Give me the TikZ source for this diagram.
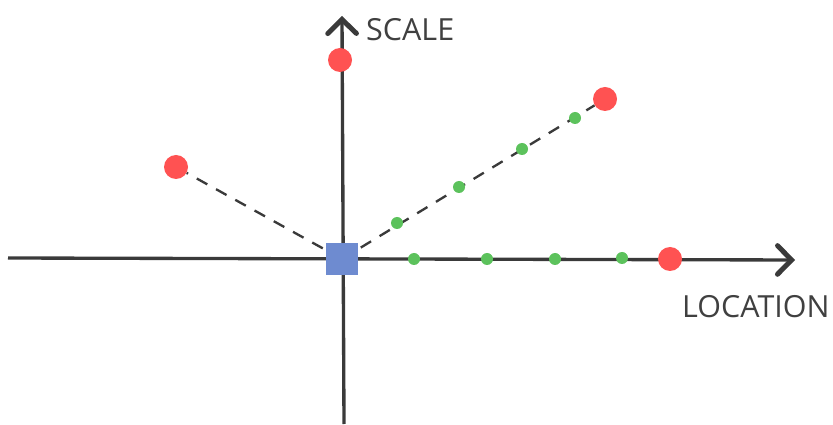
\documentclass[tikz,border=0pt]{standalone}
\usepackage{fontspec}
\setmainfont{Open Sans}
\usepackage{xcolor}
\usetikzlibrary{
  arrows.meta
}
\definecolor{axisgrey}{RGB}{58,58,58}
\definecolor{labelgrey}{RGB}{64,64,64}
\definecolor{dotred}{RGB}{255,82,82}
\definecolor{dotgreen}{RGB}{92,194,92}
\definecolor{originblue}{RGB}{110,139,208}
\tikzset{
  axis/.style={
    draw=axisgrey,
    line width=1mm,
    -{Straight Barb[length=4.2mm, width=8.6mm, line width=1.5mm, line cap=round]}
  },
  ray/.style={
    draw=axisgrey,
    line width=0.7mm,
    dash pattern=on 3.6mm off 3mm
  },
  bigdot/.style={
    circle,
    fill=dotred,
    minimum size=7.2mm,
    inner sep=0pt
  },
  smalldot/.style={
    circle,
    fill=dotgreen,
    minimum size=3.6mm,
    inner sep=0pt
  },
  origin/.style={
    rectangle,
    fill=originblue,
    minimum size=9.5mm,
    inner sep=0pt
  },
  axislabel/.style={
    text=labelgrey,
    anchor=west,
    inner sep=0pt,
    font=\fontsize{26}{31}\selectfont
  }
}
\begin{document}
\begin{tikzpicture}[x=0.3mm, y=-0.3mm]
  \useasboundingbox (0,0) rectangle (833,425);
  % axes
  \coordinate (xl) at (8,258);
  \coordinate (xr) at (795,260);
  \coordinate (yb) at (344,424);
  \coordinate (yt) at (342,16);
  \draw[axis] (xl) -- (xr);
  \draw[axis] (yb) -- (yt);
  \node[axislabel] (scale) at (366,30) {SCALE};
  \node[axislabel] (location) at (682,307) {LOCATION};
  % end points
  \node[bigdot] (top) at (340,60) {};
  \node[bigdot] (diag) at (605,99) {};
  \node[bigdot] (left) at (176,167) {};
  \node[bigdot] (right) at (670,259) {};
  % dashed rays from the origin
  \coordinate (o) at (342,259);
  \draw[ray] (o) -- (diag);
  \draw[ray] (o) -- (left);
  % intermediate steps
  \foreach \n/\x/\y in {h1/414/259, h2/487/259, h3/555/259, h4/622/258,
                        d1/397/223, d2/459/187, d3/522/149, d4/575/118}
    \node[smalldot] (\n) at (\x,\y) {};
  \node[origin] (start) at (o) {};
\end{tikzpicture}
\end{document}
